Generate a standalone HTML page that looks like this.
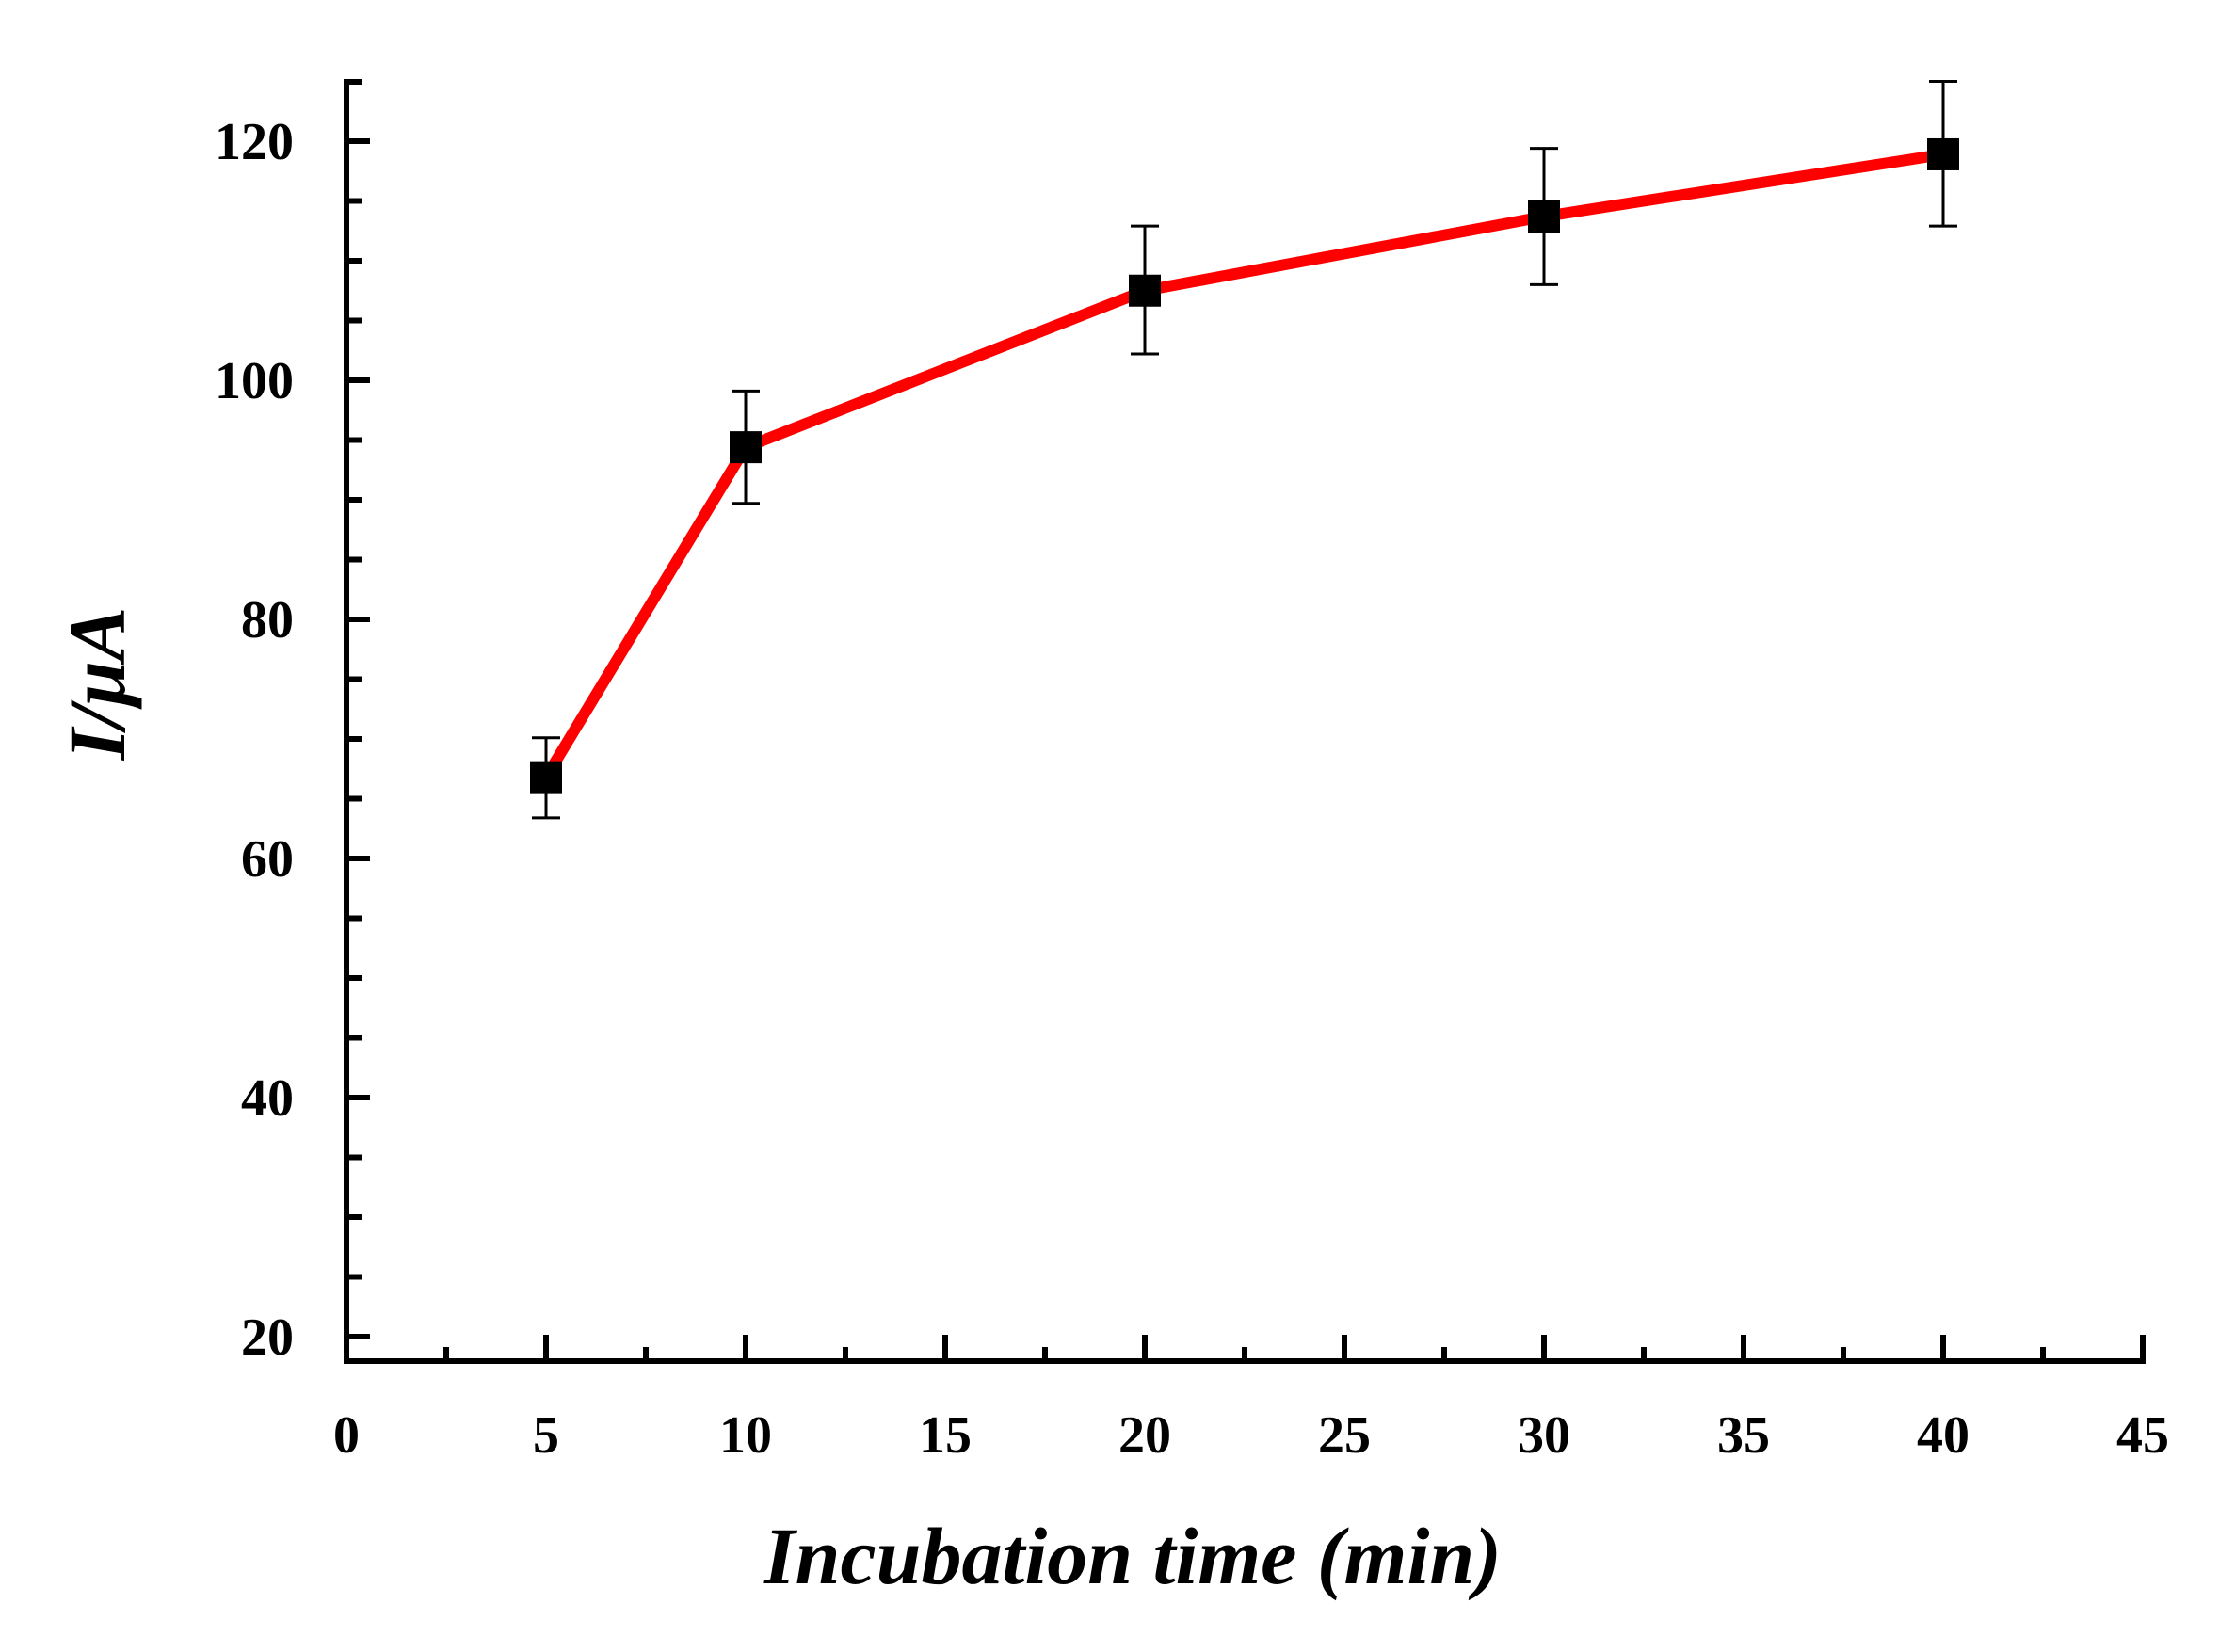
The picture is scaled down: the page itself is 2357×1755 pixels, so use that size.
<!DOCTYPE html>
<html><head><meta charset="utf-8"><style>html,body{margin:0;padding:0;background:#fff}svg{display:block}</style></head>
<body>
<svg width="2357" height="1755" viewBox="0 0 2357 1755" xmlns="http://www.w3.org/2000/svg" font-family="Liberation Serif, serif">
<g id="axes"></g>
<g id="series"></g>
<text x="1203" y="1682" font-size="86" font-weight="bold" font-style="italic" text-anchor="middle">Incubation time (min)</text>
<text transform="translate(132,726) rotate(-90)" font-size="86" font-weight="bold" font-style="italic" text-anchor="middle">I/μA</text>
</svg>
<script>
const xValues=[5,10,20,30,40];
const yValues=[66.8,94.4,107.5,113.7,118.9];
const yErrHigh=[70.1,99.1,112.9,119.4,125.0];
const yErrLow=[63.4,89.7,102.2,108.0,112.9];
const xTickLabels=[0,5,10,15,20,25,30,35,40,45];
const yTickLabels=[20,40,60,80,100,120];
const X0=368,XPU=42.4,Y0=1420,YPU=12.7;
function xs(v){return X0+v*XPU;}
function ys(v){return Y0-(v-20)*YPU;}
const NS='http://www.w3.org/2000/svg';
function mk(tag,attrs,parent){const e=document.createElementNS(NS,tag);for(const k in attrs)e.setAttribute(k,attrs[k]);parent.appendChild(e);return e;}
const ax=document.getElementById('axes');
const yTop=ys(125.2),xAxisY=1446;
let l=mk('line',{x1:X0,y1:yTop,x2:X0,y2:xAxisY+3,stroke:'#000','stroke-width':6},ax);


l=mk('line',{x1:X0-3,y1:xAxisY,x2:xs(45)+3,y2:xAxisY,stroke:'#000','stroke-width':6},ax);


mk('line',{x1:X0,y1:yTop+3,x2:X0+17,y2:yTop+3,stroke:'#000','stroke-width':6},ax);
for(let v=2.5;v<=45.01;v+=2.5){
  const major=Math.abs(v/5-Math.round(v/5))<1e-6;
  const t=mk('line',{x1:xs(v),y1:xAxisY,x2:xs(v),y2:xAxisY-(major?28:15),stroke:'#000','stroke-width':6},ax);
  
  
}
xTickLabels.forEach(v=>{
  const t=mk('text',{x:xs(v),y:1543,'font-size':56,'font-weight':'bold','text-anchor':'middle'},ax);
  t.textContent=v;
  
  
});
for(let v=20;v<=120.01;v+=5){
  const major=v%20===0;
  const t=mk('line',{x1:X0,y1:ys(v),x2:X0+(major?25:17),y2:ys(v),stroke:'#000','stroke-width':6},ax);
  
  
}
yTickLabels.forEach(v=>{
  const t=mk('text',{x:312,y:ys(v)+19,'font-size':56,'font-weight':'bold','text-anchor':'end'},ax);
  t.textContent=v;
  
  
});
const sg=document.getElementById('series');
const pts=xValues.map((x,i)=>xs(x)+','+ys(yValues[i])).join(' ');
const pl=mk('polyline',{points:pts,fill:'none',stroke:'#ff0000','stroke-width':12,'stroke-linejoin':'round'},sg);


xValues.forEach((x,i)=>{
  const cx=xs(x);
  const g=mk('g',{},sg);
  
  
  mk('line',{x1:cx,y1:ys(yErrHigh[i]),x2:cx,y2:ys(yErrLow[i]),stroke:'#000','stroke-width':3},g);
  mk('line',{x1:cx-15,y1:ys(yErrHigh[i]),x2:cx+15,y2:ys(yErrHigh[i]),stroke:'#000','stroke-width':3},g);
  mk('line',{x1:cx-15,y1:ys(yErrLow[i]),x2:cx+15,y2:ys(yErrLow[i]),stroke:'#000','stroke-width':3},g);
  const r=mk('rect',{x:cx-17,y:ys(yValues[i])-17,width:34,height:34,fill:'#000'},sg);
  
  
});
</script>
</body></html>
